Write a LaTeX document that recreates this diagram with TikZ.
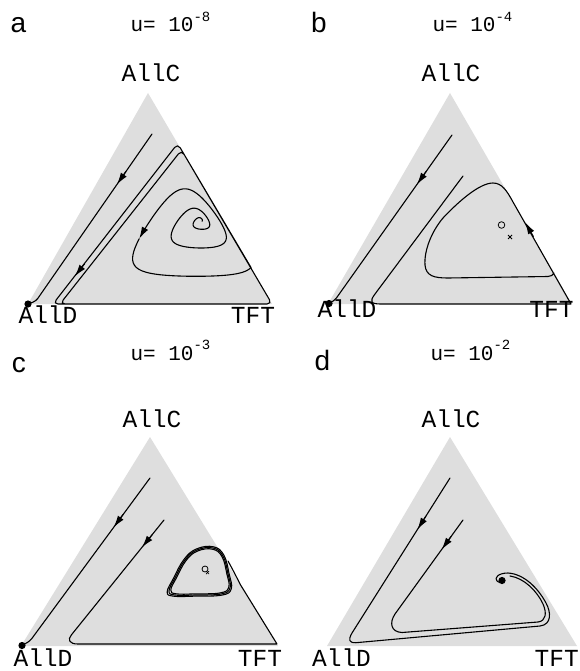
\documentclass[tikz,border=0pt]{standalone}
\usepackage{fontspec}
\setmainfont{Liberation Sans}
\setmonofont{Liberation Mono}
\usepackage{tikz}
\usetikzlibrary{arrows.meta}
\definecolor{simplexgray}{RGB}{222,222,222}
\def\simplexa{(28,304) -- (148,93) -- (272,304) -- cycle}
\def\simplexb{(328,304) -- (450,93) -- (572,304) -- cycle}
\def\simplexc{(21,646) -- (150,437) -- (278,646) -- cycle}
\def\simplexd{(327,646) -- (450,437) -- (577,646) -- cycle}
\def\growth{(1.5+3*\t/360+5.2*(\t/360)^2)}
\def\lobe{(0.05+0.15*\t/1080)}
\def\lobex{(cos(\t)+\lobe*cos(2*\t))}
\def\lobey{(-sin(\t)+\lobe*sin(2*\t))}
\def\spiralx{201+\growth*(1.13*(0.891*\lobex-0.454*\lobey)-0.335)}
\def\spiraly{220+\growth*(0.98*(0.454*\lobex+0.891*\lobey)+0.295)}
\newcommand{\rateexp}[1]{\raisebox{0.5em}{\fontsize{14}{14}\selectfont#1}}
\tikzset{
  orbit/.style={line width=1.1pt, line cap=round, line join=round},
  flow/.style={line width=1.1pt, -{Latex[length=12pt,width=7pt]}},
  panellabel/.style={font=\fontsize{28}{28}\selectfont, anchor=base},
  ratelabel/.style={font=\ttfamily\fontsize{21}{21}\selectfont, anchor=base west},
  vertexlabel/.style={font=\ttfamily\fontsize{24.5}{24.5}\selectfont, anchor=base, inner sep=0pt},
}

\begin{document}
\begin{tikzpicture}[x=1pt, y=-1pt]
    \useasboundingbox (0,0) rectangle (579,671);
    \fill[simplexgray] \simplexa;
    \fill[simplexgray] \simplexb;
    \fill[simplexgray] \simplexc;
    \fill[simplexgray] \simplexd;

    % a
    \node[panellabel] (panela) at (18.5,33) {a};
    \node[ratelabel] (ratea) at (127,32) {u= 10\rateexp{-8}};
    \node[vertexlabel] (allca) at (151,82) {AllC};
    \node[vertexlabel] (allda) at (48,323) {AllD};
    \node[vertexlabel] (tfta) at (253,323) {TFT};
    \draw[orbit, rounded corners=3pt] (152,134) -- (36,301) -- (28,304);
    \draw[flow] (126,171.4) -- (116.9,184.5);
    \draw[orbit, flow] plot[domain=0:925, samples=186, variable=\t] ({\spiralx},{\spiraly});
    \draw[orbit] plot[domain=925:1080, samples=32, variable=\t] ({\spiralx},{\spiraly});
    \draw[orbit, rounded corners=5pt] (251,267.5) -- (181.5,150) -- (60,304) -- (272,304) -- (177.7,143.5) -- (53,304) -- (66,304);
    \draw[flow] (84.7,263.7) -- (74.8,276.3);
    \fill (28,304) circle (3.6pt);

    % b
    \node[panellabel] (panelb) at (319,33) {b};
    \node[ratelabel] (rateb) at (429,32) {u= 10\rateexp{-4}};
    \node[vertexlabel] (allcb) at (451,82) {AllC};
    \node[vertexlabel] (alldb) at (347,317) {AllD};
    \node[vertexlabel] (tftb) at (551.5,317) {TFT};
    \draw[orbit, rounded corners=3pt] (452,135) -- (335,300) -- (329,303.5);
    \draw[flow] (426.2,171.4) -- (416.9,184.5);
    \draw[orbit] (463,176) -- (375,294) .. controls (369,302) and (371,304) .. (381,304) -- (571,304) -- (513,202)
        .. controls (507,191) and (502,183) .. (493,183)
        .. controls (480,183) and (460,200) .. (443,218)
        .. controls (432,231) and (424,250) .. (425,265)
        .. controls (426,276) and (434,278) .. (448,278) -- (548,276.5)
        .. controls (551,276.5) and (553,275) .. (554,273);
    \draw[flow] (533.5,236.7) -- (525.1,222.2);
    \fill (329,303.5) circle (3.6pt);
    \draw[line width=0.8pt] (501.5,225) circle (3.3pt);
    \draw[line width=0.8pt] (508,235) -- (512,239) (508,239) -- (512,235);

    % c
    \node[panellabel] (panelc) at (19,372) {c};
    \node[ratelabel] (ratec) at (127,360) {u= 10\rateexp{-3}};
    \node[vertexlabel] (allcc) at (152,427) {AllC};
    \node[vertexlabel] (alldc) at (43,666) {AllD};
    \node[vertexlabel] (tftc) at (260,666) {TFT};
    \draw[orbit, rounded corners=3pt] (150,478) -- (30,641) -- (22,645.5);
    \draw[flow] (123.3,514.2) -- (113.6,527.4);
    \draw[orbit] (164,520) -- (71.3,635) .. controls (67.5,639.7) and (69,644) .. (78,644) -- (277,644) -- (240.6,585)
        .. controls (237,578) and (233,570) .. (228,561);
    \draw[flow] (152.1,534.8) -- (142,547.3);
    \foreach \k in {0.95,1,1.05}
        \draw[orbit, line width=1.1pt, shift={(205,572)}, scale=\k] plot[smooth cycle, tension=0.7]
            coordinates {(-36,19) (-30,6) (-20,-12) (-8,-22) (8,-24) (18,-16) (23,2) (25,16) (16,22) (-10,23) (-30,23)};
    \fill (22,645.5) circle (3.6pt);
    \draw[line width=0.8pt] (205,569) circle (3pt);
    \draw[line width=0.7pt] (206,571) -- (209,574) (206,574) -- (209,571);

    % d
    \node[panellabel] (paneld) at (322.5,370) {d};
    \node[ratelabel] (rated) at (427,360) {u= 10\rateexp{-2}};
    \node[vertexlabel] (allcd) at (451,427) {AllC};
    \node[vertexlabel] (alldd) at (341.5,666) {AllD};
    \node[vertexlabel, anchor=base east] (tftd) at (579,666) {TFT};
    \draw[orbit] (450,478) -- (352,633) .. controls (348,640) and (349,643) .. (356,642.7) -- (540,626)
        .. controls (552,624.5) and (551,612) .. (546,603)
        .. controls (538,588) and (524,574) .. (508,573)
        .. controls (498,573) and (494,578) .. (497,581)
        .. controls (499,583) and (503,583) .. (502,580);
    \draw[flow] (425.9,516.1) -- (417.4,529.6);
    \draw[orbit] (463,520) -- (395,614) .. controls (389,623) and (391,632) .. (402,632.5) -- (538,622)
        .. controls (546,621) and (547,613) .. (543,604)
        .. controls (537,591) and (524,578) .. (510,576);
    \draw[flow] (451.1,536.5) -- (441.7,549.5);
    \fill (502,580.5) circle (3.6pt);
\end{tikzpicture}
\end{document}
